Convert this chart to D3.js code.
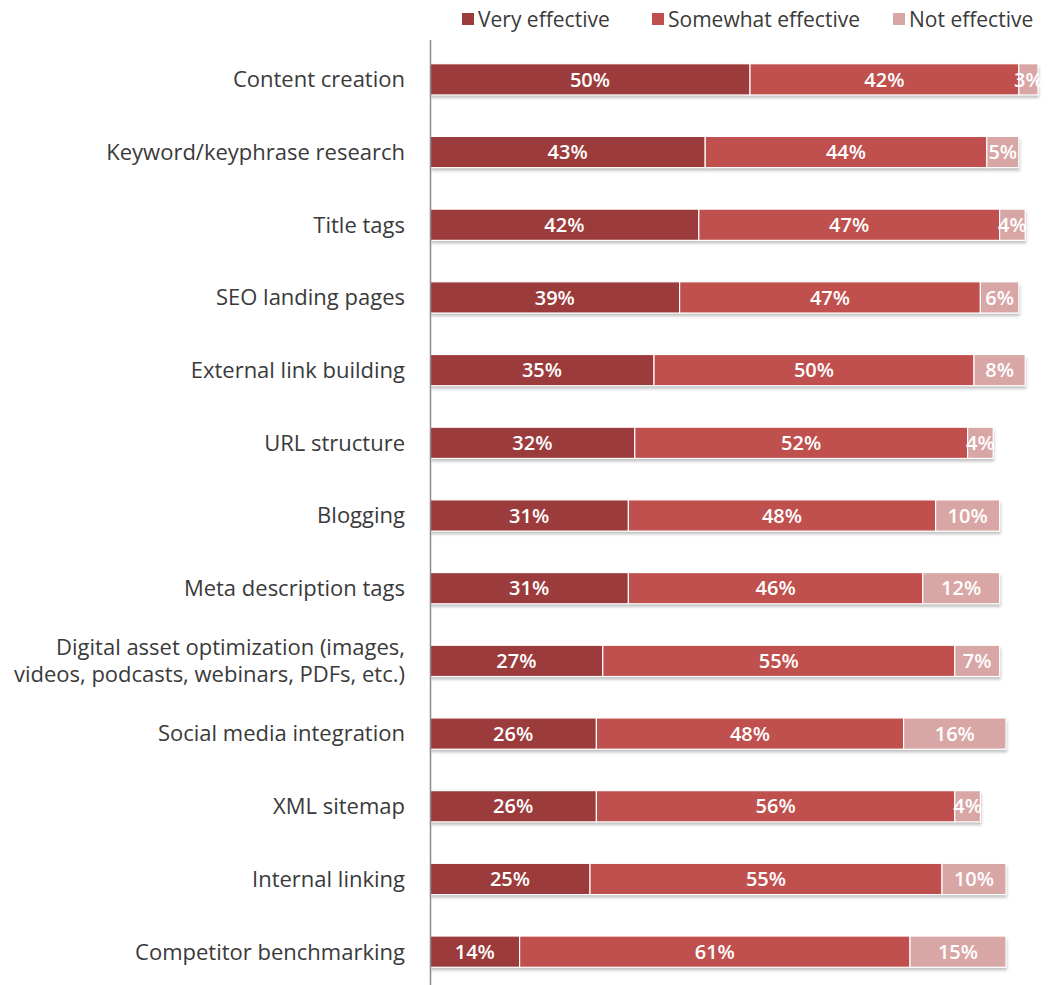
<!DOCTYPE html>
<html lang="en">
<head>
    <meta charset="UTF-8">
    <script src="https://d3js.org/d3.v7.min.js"></script>
    <title>SEO tactics effectiveness</title>
    <style>
        body { margin: 0; background: #fff; }
        text { font-family: "Open Sans", Lato, sans-serif; }
    </style>
</head>
<body>
<div id="app"></div>
<script>
    const svg_width = 1048;
    const svg_height = 985;

    const categories = [
        'Content creation',
        'Keyword/keyphrase research',
        'Title tags',
        'SEO landing pages',
        'External link building',
        'URL structure',
        'Blogging',
        'Meta description tags',
        'Digital asset optimization (images,|videos, podcasts, webinars, PDFs, etc.)',
        'Social media integration',
        'XML sitemap',
        'Internal linking',
        'Competitor benchmarking'
    ];
    const very_effective = [50, 43, 42, 39, 35, 32, 31, 31, 27, 26, 26, 25, 14];
    const somewhat_effective = [42, 44, 47, 47, 50, 52, 48, 46, 55, 48, 56, 55, 61];
    const not_effective = [3, 5, 4, 6, 8, 4, 10, 12, 7, 16, 4, 10, 15];
    const series_names = ['Very effective', 'Somewhat effective', 'Not effective'];
    const colors = ['#9c3b3b', '#c0504d', '#d9a6a6'];

    var svg = d3.select('#app')
        .append('svg')
        .attr('width', svg_width)
        .attr('height', svg_height);

    var defs = svg.append('defs');
    var f = defs.append('filter').attr('id', 'shadow')
        .attr('x', '-5%').attr('y', '-20%').attr('width', '110%').attr('height', '160%');
    f.append('feDropShadow').attr('dx', 1).attr('dy', 3).attr('stdDeviation', 1.5)
        .attr('flood-color', '#000').attr('flood-opacity', 0.25);

    var x_scale = d3.scaleLinear().domain([0, 100]).range([430, 1070]);
    var y_scale = d3.scaleBand().domain(categories).range([43, 988])
        .paddingInner(0.57).paddingOuter(0.285);

    // rows -> stacked segments
    var rows = categories.map(function (c, i) {
        return { cat: c, v: [very_effective[i], somewhat_effective[i], not_effective[i]] };
    });

    var row_g = svg.append('g')
        .selectAll('g')
        .data(rows)
        .enter()
        .append('g')
        .attr('transform', function (d) { return 'translate(0,' + y_scale(d.cat) + ')'; });

    row_g.each(function (d) {
        var g = d3.select(this);
        var start = 0;
        var segs = d.v.map(function (v, k) {
            var s = { x0: start, x1: start + v, v: v, k: k };
            start += v;
            return s;
        });
        g.append('rect')
            .attr('x', x_scale(0))
            .attr('y', 0)
            .attr('width', x_scale(start) - x_scale(0))
            .attr('height', y_scale.bandwidth())
            .attr('fill', '#fff')
            .attr('filter', 'url(#shadow)');
        g.selectAll('rect.seg')
            .data(segs)
            .enter()
            .append('rect')
            .attr('class', 'seg')
            .attr('x', function (s) { return x_scale(s.x0); })
            .attr('y', 0)
            .attr('width', function (s) { return x_scale(s.x1) - x_scale(s.x0); })
            .attr('height', y_scale.bandwidth())
            .attr('fill', function (s) { return colors[s.k]; })
            .attr('stroke', '#fff')
            .attr('stroke-width', 1.2);
        g.selectAll('text.val')
            .data(segs)
            .enter()
            .append('text')
            .attr('class', 'val')
            .attr('x', function (s) { return (x_scale(s.x0) + x_scale(s.x1)) / 2; })
            .attr('y', y_scale.bandwidth() / 2)
            .attr('dy', '0.36em')
            .attr('text-anchor', 'middle')
            .attr('fill', '#fff')
            .attr('font-size', 20)
            .attr('font-weight', 600)
            .text(function (s) { return s.v + '%'; });
    });

    // category labels
    svg.append('g')
        .selectAll('text')
        .data(categories)
        .enter()
        .append('text')
        .attr('x', 405)
        .attr('y', function (d) { return y_scale(d) + y_scale.bandwidth() / 2; })
        .attr('text-anchor', 'end')
        .attr('fill', '#3a3a3a')
        .attr('font-size', 22)
        .each(function (d) {
            var parts = d.split('|');
            var t = d3.select(this);
            parts.forEach(function (p, j) {
                t.append('tspan')
                    .attr('x', 405)
                    .attr('dy', j === 0 ? (0.36 - (parts.length - 1) * 0.62) + 'em' : '1.24em')
                    .text(p);
            });
        });

    // axis line
    svg.append('line')
        .attr('x1', 430.5).attr('x2', 430.5)
        .attr('y1', 40).attr('y2', 985)
        .attr('stroke', '#8c8c8c')
        .attr('stroke-width', 1.5);

    // legend
    var legend_x = [462, 652, 893];
    var legend = svg.append('g')
        .selectAll('g')
        .data(series_names)
        .enter()
        .append('g')
        .attr('transform', function (d, i) { return 'translate(' + legend_x[i] + ',19)'; });
    legend.append('rect')
        .attr('x', 0).attr('y', -6)
        .attr('width', 12).attr('height', 12)
        .attr('fill', function (d, i) { return colors[i]; });
    legend.append('text')
        .attr('x', 16)
        .attr('y', 0)
        .attr('dy', '0.36em')
        .attr('fill', '#3a3a3a')
        .attr('font-size', 21)
        .text(function (d) { return d; });
</script>
</body>
</html>
